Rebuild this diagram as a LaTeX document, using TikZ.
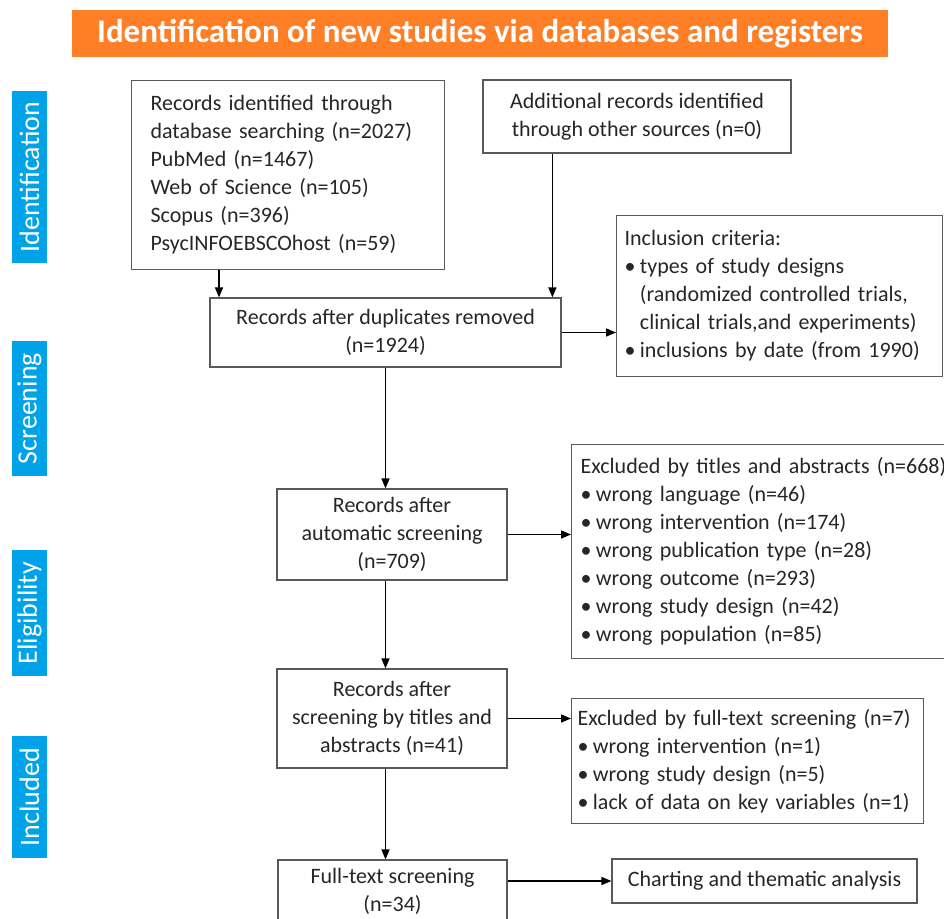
\documentclass[tikz,border=0pt]{standalone}
\usepackage{fontspec}
\setmainfont{Carlito}
\usepackage{tikz}
\usetikzlibrary{arrows.meta,positioning,calc}
\definecolor{titleorange}{HTML}{FF7F27}
\definecolor{tabblue}{HTML}{00A2E8}
\definecolor{boxline}{HTML}{595959}
\definecolor{boxtext}{HTML}{262626}
\newcommand{\bul}{\textbullet\hspace{0.2em}}

\begin{document}
\begin{tikzpicture}[
  x=1pt,y=-1pt,
  flowbox/.style={draw=boxline,line width=1.2pt,text=boxtext,align=center,
               font=\fontsize{22}{28}\selectfont,inner sep=0pt},
  listbox/.style={flowbox,align=left,anchor=north west},
  sidetab/.style={fill=tabblue,text=white,rotate=90,minimum height=35pt,
               font=\fontsize{28}{30}\selectfont,inner sep=0pt},
  arr/.style={-{Triangle[length=10pt,width=8pt]},line width=1.5pt,draw=black}
]
\useasboundingbox (0,0) rectangle (944,918);
\clip (0,0) rectangle (944,918);
% heading and phases
\node[flowbox,fill=titleorange,draw=none,text=white,font=\bfseries\fontsize{33}{36}\selectfont,
      minimum width=816pt,minimum height=47pt] (title) at (480,33.5) {Identification of new studies via databases and registers};
\node[sidetab,minimum width=172pt] (tabident) at (29.5,177) {Identification};
\node[sidetab,minimum width=135pt] (tabscreen) at (29.5,408.5) {Screening};
\node[sidetab,minimum width=126pt] (tabelig) at (29.5,613) {Eligibility};
\node[sidetab,minimum width=122pt] (tabincl) at (29.5,797) {Included};
% flow
\node[listbox,text width=275pt,inner xsep=19pt,minimum height=189pt] (dbrec) at (131,80)
  {Records identified through\\database searching (n=2027)\\PubMed (n=1467)\\Web of Science (n=105)\\Scopus (n=396)\\PsycINFOEBSCOhost (n=59)};
\node[flowbox,minimum width=308pt,minimum height=73pt] (otherrec) at (637,116.5)
  {Additional records identified\\through other sources (n=0)};
\node[flowbox,minimum width=351pt,minimum height=69pt] (dedup) at (385.5,332.5)
  {Records after duplicates removed\\(n=1924)};
\node[listbox,text width=310pt,inner xsep=8pt,minimum height=161pt] (inclcrit) at (616,215)
  {Inclusion criteria:\\\bul types of study designs\\\phantom{\bul}(randomized controlled trials,\\\phantom{\bul}clinical trials,and experiments)\\\bul inclusions by date (from 1990)};
\node[flowbox,minimum width=230pt,minimum height=91pt] (autoscr) at (392,534.5)
  {Records after\\automatic screening\\(n=709)};
\node[listbox,text width=380pt,inner xsep=9pt,minimum height=214pt] (exclabs) at (571,444)
  {Excluded by titles and abstracts (n=668)\\\bul wrong language (n=46)\\\bul wrong intervention (n=174)\\\bul wrong publication type (n=28)\\\bul wrong outcome (n=293)\\\bul wrong study design (n=42)\\\bul wrong population (n=85)};
\node[flowbox,minimum width=230pt,minimum height=99pt] (titscr) at (392,718.5)
  {Records after\\screening by titles and\\abstracts (n=41)};
\node[listbox,text width=340pt,inner xsep=6pt,minimum height=125pt] (exclfull) at (571,698)
  {Excluded by full-text screening (n=7)\\\bul wrong intervention (n=1)\\\bul wrong study design (n=5)\\\bul lack of data on key variables (n=1)};
\node[flowbox,minimum width=229pt,minimum height=63pt] (fulltext) at (392.5,891.5)
  {Full-text screening\\(n=34)};
\node[flowbox,minimum width=305pt,minimum height=44pt] (charting) at (764.5,881)
  {Charting and thematic analysis};
% arrows
\coordinate (dbout) at ([xshift=88pt]dbrec.south west);
\coordinate (otherout) at ([xshift=70pt]otherrec.south west);
\draw[arr] (dbout) -- (dbout |- dedup.north);
\draw[arr] (otherout) -- (otherout |- dedup.north);
\draw[arr] (dedup.east) -- (dedup.east -| inclcrit.west);
\draw[arr] (dedup.south) -- (dedup.south |- autoscr.north);
\draw[arr] (autoscr.east) -- (autoscr.east -| exclabs.west);
\draw[arr] (autoscr.south -| dedup.south) -- (dedup.south |- titscr.north);
\draw[arr] (titscr.east) -- (titscr.east -| exclfull.west);
\draw[arr] (titscr.south -| dedup.south) -- (dedup.south |- fulltext.north);
\draw[arr] (fulltext.east |- charting.west) -- (charting.west);
\end{tikzpicture}
\end{document}
